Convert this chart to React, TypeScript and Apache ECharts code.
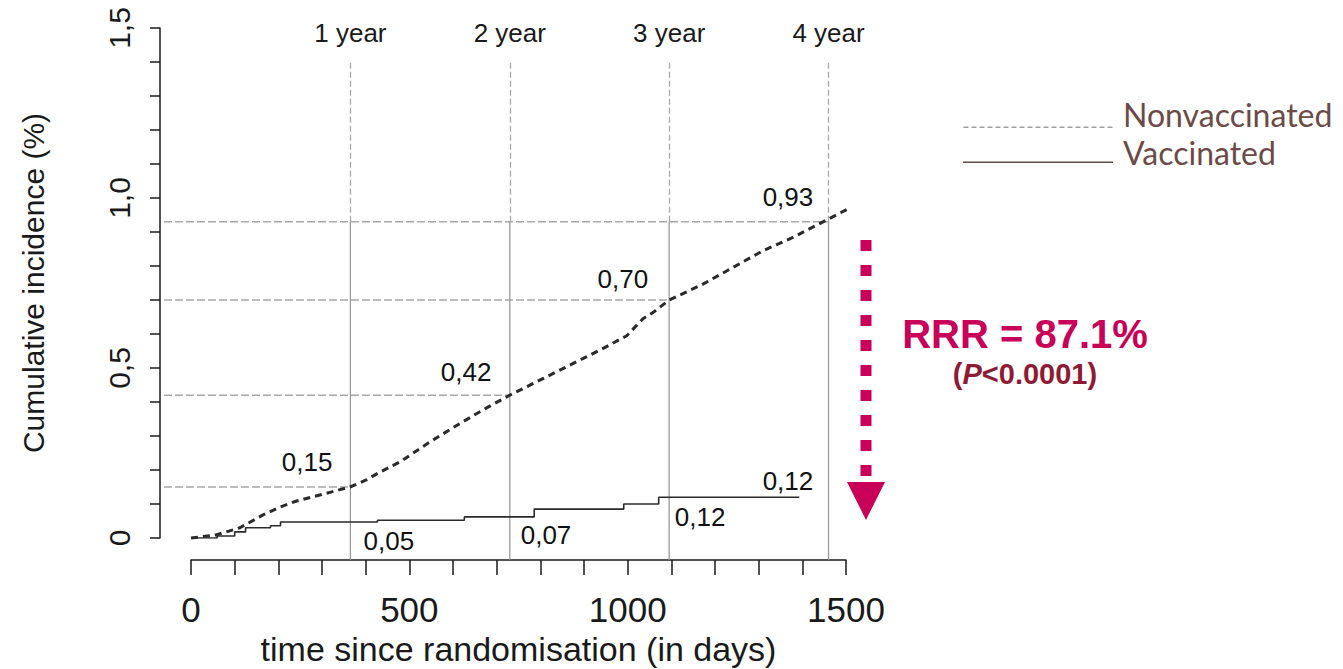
import React, { useEffect, useRef } from 'react';
import * as echarts from 'echarts';

// ---- data ----
const nonvacDays = [0, 57, 112, 165, 204, 240, 279, 320, 364, 400, 433, 480, 550, 620, 680, 730, 800, 870, 940, 998, 1035, 1060, 1095, 1170, 1240, 1310, 1380, 1455, 1530];
const nonvacIncidence = [0, 0.009, 0.03, 0.068, 0.091, 0.108, 0.121, 0.135, 0.15, 0.17, 0.194, 0.225, 0.285, 0.34, 0.385, 0.42, 0.465, 0.51, 0.555, 0.595, 0.645, 0.665, 0.7, 0.745, 0.795, 0.845, 0.885, 0.935, 0.985];

const vacDays = [0, 60, 100, 125, 182, 205, 427, 626, 786, 991, 1071, 1393];
const vacIncidence = [0, 0.006, 0.018, 0.03, 0.036, 0.047, 0.052, 0.062, 0.085, 0.1, 0.12, 0.12];

const yearDays = [365, 730, 1095, 1460];
const yearLabels = ['1 year', '2 year', '3 year', '4 year'];
const yearNonvacValues = [0.15, 0.42, 0.7, 0.93];

const annotationTexts = ['0,15', '0,42', '0,70', '0,93', '0,05', '0,07', '0,12', '0,12'];
const annotationDays = [266, 630, 989, 1367, 453, 813, 1166, 1367];
const annotationValues = [0.224, 0.488, 0.762, 1.003, -0.009, 0.009, 0.062, 0.168];

const xTickLabels = [0, 500, 1000, 1500];
const yTickLabels = [0, 0.5, 1.0, 1.5];

const seriesNames = ['Nonvaccinated', 'Vaccinated'];
const rrrText = 'RRR = 87.1%';

// ---- layout & styles ----
const GRID_LEFT = 191;
const Y_OFFSET = 31;
const FONT = "'Liberation Sans', Arial, Helvetica, sans-serif";
const LEGEND_FONT = "Lato, 'Open Sans', sans-serif";
const INK = '#1a1a1a';
const GREY = '#a8a8a8';
const MAGENTA = '#c8005a';
const DARKRED = '#8e1b35';
const LEGEND_TEXT = '#6b4a47';

const vBottom = -0.064;
const vSplit = 0.93;
const vTop = 1.406;

function dashedIconPath(w: number, h: number, dash: number, gap: number, thick: number) {
  let d = 'M0,0h0.01v0.01h-0.01z';
  for (let x = 0; x < w; x += dash + gap) {
    const len = Math.min(dash, w - x);
    d += ` M${x},${h - thick}h${len}v${thick}h${-len}z`;
  }
  return 'path://' + d;
}
function solidIconPath(w: number, h: number, thick: number) {
  return `path://M0,0h0.01v0.01h-0.01z M0,${h - thick}h${w}v${thick}h${-w}z`;
}

const staticGraphics: any[] = [
  {
    id: 'arrow-dots',
    type: 'line',
    silent: true,
    shape: { x1: 866, y1: 240, x2: 866, y2: 476 },
    style: { stroke: MAGENTA, lineWidth: 11, lineDash: [11, 14] },
  },
  {
    id: 'arrow-head',
    type: 'polygon',
    silent: true,
    shape: { points: [[847, 482], [885, 482], [866, 520]] },
    style: { fill: MAGENTA },
  },
  {
    id: 'rrr',
    type: 'text',
    silent: true,
    x: 1025,
    y: 334,
    style: {
      text: rrrText,
      fill: MAGENTA,
      fontSize: 40,
      fontWeight: 'bold',
      fontFamily: FONT,
      align: 'center',
      verticalAlign: 'middle',
    },
  },
  {
    id: 'pval',
    type: 'text',
    silent: true,
    x: 1025,
    y: 374,
    style: {
      text: '{a|(}{b|P}{a|<0.0001)}',
      fill: DARKRED,
      align: 'center',
      verticalAlign: 'middle',
      rich: {
        a: { fontSize: 29, fontWeight: 'bold', fontFamily: FONT, fill: DARKRED, color: DARKRED },
        b: { fontSize: 29, fontWeight: 'bold', fontStyle: 'italic', fontFamily: FONT, fill: DARKRED, color: DARKRED },
      },
    },
  },
];

export default function App() {
  const ref = useRef<HTMLDivElement>(null);

  useEffect(() => {
    if (!ref.current) return;
    const chart = echarts.init(ref.current, undefined, { renderer: 'svg' });

    const nonvacData = nonvacDays.map((d, i) => [d, nonvacIncidence[i]]);
    const vacData = vacDays.map((d, i) => [d, vacIncidence[i]]);
    const annData = annotationDays.map((d, i) => [d, annotationValues[i], annotationTexts[i]]);

    const verticalRefs = yearDays.map((d, i) => ({
      type: 'line',
      name: `ref-v-${i}`,
      clip: false,
      silent: true,
      symbol: 'none',
      showSymbol: false,
      z: 1,
      data: [
        [d, vBottom],
        [d, vSplit],
      ],
      lineStyle: { color: '#9a9a9a', width: 1.3, type: 'solid' },
    }));

    const option: any = {
      animation: false,
      backgroundColor: '#ffffff',
      grid: {
        left: GRID_LEFT,
        right: 497,
        top: 28,
        bottom: 131,
        containLabel: false,
        outerBoundsMode: 'none',
      },
      legend: {
        orient: 'vertical',
        left: 958,
        top: 91,
        itemWidth: 150,
        itemHeight: 28,
        itemGap: 2,
        selectedMode: false,
        textStyle: { fontFamily: LEGEND_FONT, fontSize: 32, color: LEGEND_TEXT, lineHeight: 36, padding: [0, 0, 0, 5] },
        data: [
          { name: seriesNames[0], icon: dashedIconPath(150, 28, 5, 3, 1.6), itemStyle: { color: '#9a9a9a', borderWidth: 0 } },
          { name: seriesNames[1], icon: solidIconPath(150, 22, 1.6), itemStyle: { color: '#5e4e4c', borderWidth: 0 } },
        ],
      },
      xAxis: {
        type: 'value',
        min: 0,
        max: 1500,
        interval: 100,
        offset: 22,
        axisLine: { show: true, onZero: false, lineStyle: { color: INK, width: 1.5 } },
        axisTick: { show: true, length: 15, lineStyle: { color: INK, width: 1.5 } },
        axisLabel: {
          margin: 32,
          fontSize: 35,
          color: INK,
          fontFamily: FONT,
          formatter: (v: number) => (xTickLabels.indexOf(v) >= 0 ? String(v) : ''),
        },
        splitLine: { show: false },
        name: 'time since randomisation (in days)',
        nameLocation: 'middle',
        nameGap: 69,
        nameTextStyle: { fontSize: 34, color: INK, fontFamily: FONT },
      },
      yAxis: {
        type: 'value',
        min: 0,
        max: 1.5,
        interval: 0.1,
        offset: Y_OFFSET,
        axisLine: { show: true, onZero: false, lineStyle: { color: INK, width: 1.5 } },
        axisTick: { show: true, length: 10, lineStyle: { color: INK, width: 1.5 } },
        axisLabel: {
          rotate: 90,
          margin: 26,
          fontSize: 30,
          color: INK,
          fontFamily: FONT,
          formatter: (v: number) => {
            const k = Math.round(v * 10) / 10;
            const hit = yTickLabels.find((t) => Math.abs(t - v) < 1e-6);
            if (hit === undefined) return '';
            return k === 0 ? '0' : k.toFixed(1).replace('.', ',');
          },
        },
        splitLine: { show: false },
        name: 'Cumulative incidence (%)',
        nameLocation: 'middle',
        nameGap: 112,
        nameTextStyle: { fontSize: 30, color: INK, fontFamily: FONT },
      },
      series: [
        ...verticalRefs,
        {
          name: seriesNames[0],
          type: 'line',
          data: nonvacData,
          showSymbol: false,
          symbol: 'none',
          clip: false,
          z: 4,
          lineStyle: { color: '#2a2a2a', width: 3, type: [7, 5] },
          itemStyle: { color: '#2a2a2a' },
        },
        {
          name: seriesNames[1],
          type: 'line',
          step: 'end',
          data: vacData,
          showSymbol: false,
          symbol: 'none',
          z: 4,
          lineStyle: { color: '#2a2a2a', width: 1.6 },
          itemStyle: { color: '#2a2a2a' },
          markLine: {
            silent: true,
            symbol: ['none', 'none'],
            z: 1,
            lineStyle: { color: GREY, width: 1.3, type: [6, 3] },
            label: {
              show: true,
              position: 'end',
              distance: 14,
              fontSize: 26,
              color: INK,
              fontFamily: FONT,
              formatter: (p: any) => yearLabels[p.dataIndex],
            },
            data: yearDays.map((d) => [{ coord: [d, vSplit] }, { coord: [d, vTop] }]),
          },
        },
        {
          name: 'annotations',
          type: 'scatter',
          data: annData,
          symbol: 'circle',
          symbolSize: 1,
          clip: false,
          silent: true,
          itemStyle: { color: '#ffffff', opacity: 1 },
          z: 5,
          label: {
            show: true,
            position: 'inside',
            fontSize: 26,
            color: '#111111',
            opacity: 1,
            textBorderWidth: 0,
            fontFamily: FONT,
            formatter: (p: any) => p.value[2],
          },
          emphasis: { disabled: true },
        },
      ],
      graphic: staticGraphics,
    };

    chart.setOption(option);

    // horizontal reference lines: from the (offset) y axis to each year line,
    // positioned through the chart's own scales
    const yAxisPx = GRID_LEFT - Y_OFFSET + 4;
    const hLines = yearDays.map((d, i) => {
      const p = chart.convertToPixel({ gridIndex: 0 }, [d, yearNonvacValues[i]]) as number[];
      return {
        id: `hline-${i}`,
        type: 'line',
        silent: true,
        z: 1,
        shape: { x1: yAxisPx, y1: p[1], x2: p[0], y2: p[1] },
        style: { stroke: GREY, lineWidth: 1.4, lineDash: [8, 3] },
      };
    });
    chart.setOption({ graphic: [...staticGraphics, ...hLines] });

    return () => chart.dispose();
  }, []);

  return (
    <div
      ref={ref}
      style={{ position: 'fixed', left: 0, top: 0, width: 1343, height: 669, background: '#fff' }}
    />
  );
}
